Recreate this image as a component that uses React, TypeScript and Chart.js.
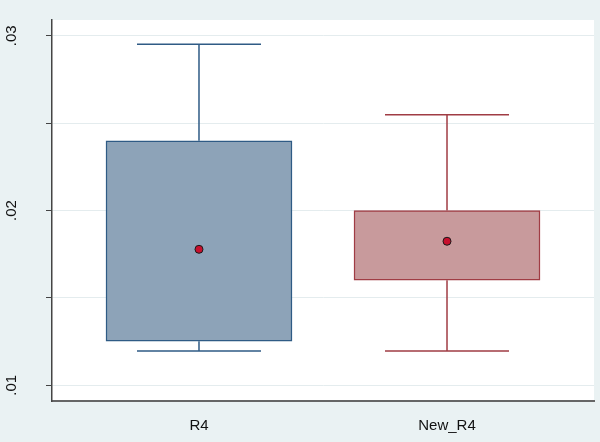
import React, { useEffect, useRef } from "react";
import { Chart, registerables } from "chart.js";

Chart.register(...registerables);

// ---- data ----
const categories = ["R4", "New_R4"];
const whiskerLow = [0.01196, 0.01196];
const q1 = [0.01252, 0.01601];
const q3 = [0.02399, 0.02];
const whiskerHigh = [0.02951, 0.02548];
const means = [0.01778, 0.01824];

const yTickValues = [0.01, 0.015, 0.02, 0.025, 0.03];
const yTickLabels = [".01", "", ".02", "", ".03"];

const edgeColors = ["#2f5b85", "#a03c44"];
const fillColors = ["#8da3b8", "#c89a9c"];

const BOX_HALF = 0.375;
const CAP_HALF = 0.25;

export default function App() {
  const ref = useRef<HTMLCanvasElement | null>(null);

  useEffect(() => {
    document.body.style.margin = "0";
    const canvas = ref.current;
    if (!canvas) return;

    const whiskerSets = categories.map((_, i) => {
      const c = i + 1;
      return {
        type: "line" as const,
        data: [
          { x: c, y: q3[i] },
          { x: c, y: whiskerHigh[i] },
          { x: c, y: null },
          { x: c - CAP_HALF, y: whiskerHigh[i] },
          { x: c + CAP_HALF, y: whiskerHigh[i] },
          { x: c, y: null },
          { x: c, y: q1[i] },
          { x: c, y: whiskerLow[i] },
          { x: c, y: null },
          { x: c - CAP_HALF, y: whiskerLow[i] },
          { x: c + CAP_HALF, y: whiskerLow[i] },
        ],
        borderColor: edgeColors[i],
        borderWidth: 1.5,
        pointRadius: 0,
        spanGaps: false,
        fill: false,
        tension: 0,
        order: 2,
      };
    });

    const bg = {
      id: "bg",
      beforeDraw(chart: any) {
        const { ctx, chartArea } = chart;
        ctx.save();
        ctx.fillStyle = "#eaf2f3";
        ctx.fillRect(0, 0, chart.width, chart.height);
        ctx.fillStyle = "#ffffff";
        ctx.fillRect(chartArea.left, chartArea.top, chartArea.right - chartArea.left, chartArea.bottom - chartArea.top);
        ctx.restore();
      },
    };

    const chart = new Chart(canvas, {
      type: "scatter",
      data: {
        datasets: [
          {
            type: "bar",
            data: categories.map((_, i) => ({ x: i + 1, y: [q1[i], q3[i]] })),
            backgroundColor: fillColors,
            borderColor: edgeColors,
            borderWidth: 1.5,
            borderSkipped: false,
            barThickness: Math.round(BOX_HALF * 2 * 248),
            order: 3,
          } as any,
          ...whiskerSets,
          {
            type: "scatter",
            data: categories.map((_, i) => ({ x: i + 1, y: means[i] })),
            backgroundColor: "#c8102e",
            borderColor: "#1a1a1a",
            borderWidth: 1,
            pointRadius: 4,
            order: 1,
          },
        ] as any,
      },
      options: {
        responsive: false,
        animation: false,
        layout: { padding: { top: 20, right: 6, left: 0, bottom: 0 } },
        plugins: {
          legend: { display: false },
          tooltip: { enabled: false },
        },
        scales: {
          x: {
            type: "linear",
            min: 0.4073,
            max: 2.5927,
            offset: false,
            grid: { display: false, drawTicks: false, offset: false },
            border: { display: true, color: "#666666", width: 2 },
            afterBuildTicks: (scale: any) => {
              scale.ticks = categories.map((_, i) => ({ value: i + 1 }));
            },
            afterFit: (scale: any) => {
              scale.height = 41;
              scale.paddingLeft = 0;
              scale.paddingRight = 0;
            },
            ticks: {
              padding: 16,
              color: "#111111",
              font: { family: "'Liberation Sans', Arial, sans-serif", size: 15 },
              callback: (v: any) => categories[Math.round(Number(v)) - 1] ?? "",
            },
          },
          y: {
            type: "linear",
            min: 0.0091,
            max: 0.0309,
            beginAtZero: false,
            grid: {
              color: "#e4ecee",
              lineWidth: 1,
              tickColor: "#444444",
              tickLength: 6,
              drawTicks: true,
            },
            border: { display: true, color: "#444444", width: 1.5 },
            afterBuildTicks: (scale: any) => {
              scale.ticks = yTickValues.map((v) => ({ value: v }));
            },
            afterFit: (scale: any) => {
              scale.width = 52;
              scale.paddingTop = 0;
              scale.paddingBottom = 0;
            },
            ticks: {
              minRotation: 90,
              maxRotation: 90,
              crossAlign: "center",
              padding: 24,
              color: "#111111",
              font: { family: "'Liberation Sans', Arial, sans-serif", size: 15 },
              callback: (v: any) => {
                const idx = yTickValues.findIndex((t) => Math.abs(t - Number(v)) < 1e-9);
                return idx >= 0 ? yTickLabels[idx] : "";
              },
            },
          },
        },
      } as any,
      plugins: [bg],
    });

    return () => chart.destroy();
  }, []);

  return <canvas ref={ref} width={600} height={442} />;
}
